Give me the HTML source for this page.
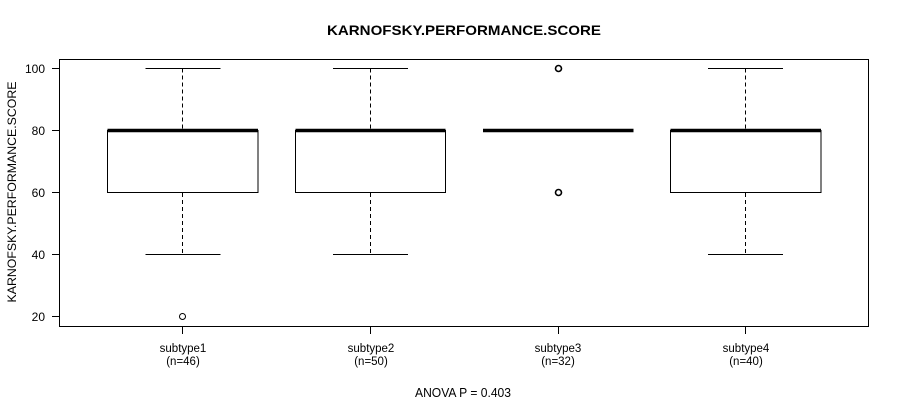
<!DOCTYPE html>
<html><head><meta charset="utf-8"><style>
html,body{margin:0;padding:0;background:#fff;}
svg{display:block;font-family:"Liberation Sans",Arial,sans-serif;}
</style></head><body>
<svg width="900" height="400" viewBox="0 0 900 400" xmlns="http://www.w3.org/2000/svg">
<rect width="900" height="400" fill="#fff"/>
<text x="464" y="35" text-anchor="middle" font-size="14" font-weight="bold" textLength="274" lengthAdjust="spacingAndGlyphs">KARNOFSKY.PERFORMANCE.SCORE</text>
<!-- plot frame -->
<rect x="59.5" y="59.5" width="809" height="267" fill="none" stroke="#000" stroke-width="1"/>
<!-- y axis ticks -->
<g stroke="#000" stroke-width="1">
<line x1="52" y1="68.5" x2="59" y2="68.5"/>
<line x1="52" y1="130.5" x2="59" y2="130.5"/>
<line x1="52" y1="192.5" x2="59" y2="192.5"/>
<line x1="52" y1="254.5" x2="59" y2="254.5"/>
<line x1="52" y1="316.5" x2="59" y2="316.5"/>
</g>
<g font-size="12" text-anchor="end">
<text x="45" y="73">100</text>
<text x="45" y="135">80</text>
<text x="45" y="197">60</text>
<text x="45" y="259">40</text>
<text x="45" y="321">20</text>
</g>
<text transform="translate(16,192) rotate(-90)" text-anchor="middle" font-size="12" textLength="221" lengthAdjust="spacingAndGlyphs">KARNOFSKY.PERFORMANCE.SCORE</text>
<!-- x ticks -->
<g stroke="#000" stroke-width="1">
<line x1="182.5" y1="327" x2="182.5" y2="334"/>
<line x1="370.5" y1="327" x2="370.5" y2="334"/>
<line x1="558.5" y1="327" x2="558.5" y2="334"/>
<line x1="745.5" y1="327" x2="745.5" y2="334"/>
</g>
<g font-size="11.5" text-anchor="middle">
<text x="183" y="352">subtype1</text><text x="183" y="365">(n=46)</text>
<text x="371" y="352">subtype2</text><text x="371" y="365">(n=50)</text>
<text x="558" y="352">subtype3</text><text x="558" y="365">(n=32)</text>
<text x="746" y="352">subtype4</text><text x="746" y="365">(n=40)</text>
</g>
<text x="463" y="397" text-anchor="middle" font-size="12.5" textLength="96" lengthAdjust="spacingAndGlyphs">ANOVA P = 0.403</text>
<!-- box 1 -->
<g stroke="#000" fill="none">
<line x1="182.5" y1="68.5" x2="182.5" y2="130" stroke-dasharray="4,3"/>
<line x1="182.5" y1="193" x2="182.5" y2="254" stroke-dasharray="4,3"/>
<line x1="145.5" y1="68.5" x2="220.5" y2="68.5"/>
<line x1="145.5" y1="254.5" x2="220.5" y2="254.5"/>
<rect x="107.5" y="130.5" width="150.5" height="62" fill="#fff"/>
<line x1="107.5" y1="130.5" x2="258" y2="130.5" stroke-width="3.5"/>
<circle cx="182.5" cy="316.5" r="3" stroke-width="1"/>
</g>
<!-- box 2 -->
<g stroke="#000" fill="none">
<line x1="370.5" y1="68.5" x2="370.5" y2="130" stroke-dasharray="4,3"/>
<line x1="370.5" y1="193" x2="370.5" y2="254" stroke-dasharray="4,3"/>
<line x1="333" y1="68.5" x2="408" y2="68.5"/>
<line x1="333" y1="254.5" x2="408" y2="254.5"/>
<rect x="295.5" y="130.5" width="150" height="62" fill="#fff"/>
<line x1="295.5" y1="130.5" x2="445.5" y2="130.5" stroke-width="3.5"/>
</g>
<!-- box 3 -->
<g stroke="#000" fill="none">
<line x1="483" y1="130.5" x2="633.5" y2="130.5" stroke-width="3.5"/>
<circle cx="558.5" cy="68.5" r="3" stroke-width="1.6"/>
<circle cx="558.5" cy="192.5" r="3" stroke-width="1.6"/>
</g>
<!-- box 4 -->
<g stroke="#000" fill="none">
<line x1="745.5" y1="68.5" x2="745.5" y2="130" stroke-dasharray="4,3"/>
<line x1="745.5" y1="193" x2="745.5" y2="254" stroke-dasharray="4,3"/>
<line x1="708" y1="68.5" x2="783" y2="68.5"/>
<line x1="708" y1="254.5" x2="783" y2="254.5"/>
<rect x="670.5" y="130.5" width="150.5" height="62" fill="#fff"/>
<line x1="670.5" y1="130.5" x2="821" y2="130.5" stroke-width="3.5"/>
</g>
</svg>
</body></html>
